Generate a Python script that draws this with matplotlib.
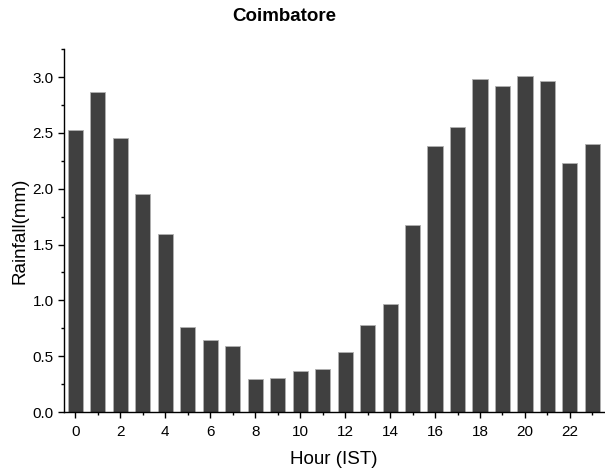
import matplotlib
matplotlib.use("Agg")
import matplotlib.pyplot as plt
from matplotlib.ticker import MultipleLocator, FormatStrFormatter

# hourly mean rainfall, Coimbatore
hours = list(range(24))
rainfall = [2.53, 2.865, 2.45, 1.95, 1.59, 0.76, 0.645, 0.595, 0.295, 0.307, 0.364, 0.388,
            0.537, 0.776, 0.97, 1.677, 2.378, 2.554, 2.978, 2.918, 3.01, 2.96, 2.227, 2.40]

plt.rcParams['font.family'] = ['Liberation Sans', 'DejaVu Sans']

fig = plt.figure(figsize=(6.05, 4.75), dpi=100)
ax = fig.add_axes([0.1058, 0.1326, 0.892, 0.764])

ax.bar(hours, rainfall, width=0.67, color='#404040', edgecolor='#b0b0b0', linewidth=0.6)

ax.set_xlim(-0.5, 23.5)
ax.set_ylim(0, 3.25)
ax.xaxis.set_major_locator(MultipleLocator(2))
ax.xaxis.set_minor_locator(MultipleLocator(1))
ax.yaxis.set_major_locator(MultipleLocator(0.5))
ax.yaxis.set_minor_locator(MultipleLocator(0.25))
ax.yaxis.set_major_formatter(FormatStrFormatter('%.1f'))

ax.spines['top'].set_visible(False)
ax.spines['right'].set_visible(False)
for s in ['left', 'bottom']:
    ax.spines[s].set_linewidth(1.0)
    ax.spines[s].set_color('black')
ax.tick_params(which='major', direction='out', length=4, width=1, labelsize=11)
ax.tick_params(axis='x', which='major', pad=5)
ax.tick_params(which='minor', direction='out', length=2.5, width=1)

ax.set_xlabel('Hour (IST)', fontsize=13.5, labelpad=9)
ax.set_ylabel('Rainfall(mm)', fontsize=13.5, labelpad=3)
fig.text(0.47, 0.966, 'Coimbatore', ha='center', va='center', fontsize=13.5, fontweight='bold')

fig.savefig('out.png', dpi=100)
